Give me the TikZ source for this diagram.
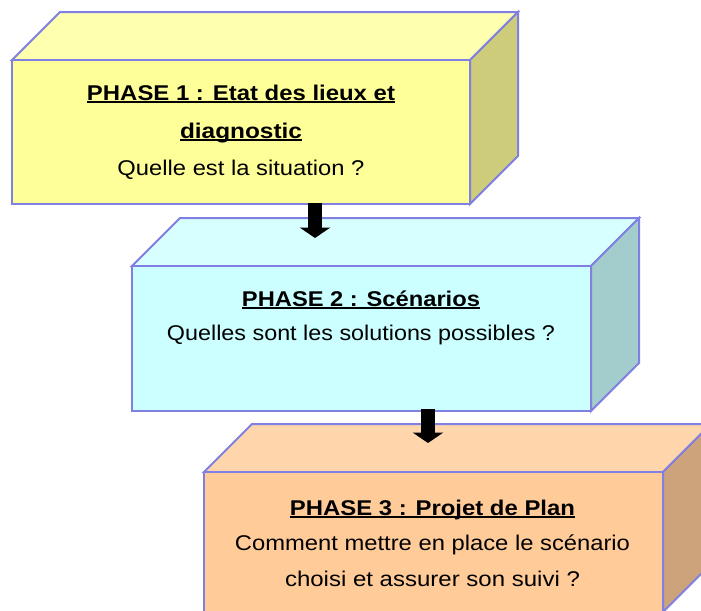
\documentclass[tikz,border=0pt]{standalone}
\usepackage{fontspec}
\setmainfont{Liberation Sans}
\usetikzlibrary{arrows.meta}
\definecolor{edge}{RGB}{128,128,226}
\definecolor{yfront}{RGB}{255,255,153}
\definecolor{ytop}{RGB}{255,255,176}
\definecolor{yside}{RGB}{204,204,122}
\definecolor{cfront}{RGB}{204,255,255}
\definecolor{ctop}{RGB}{216,255,255}
\definecolor{cside}{RGB}{163,204,204}
\definecolor{ofront}{RGB}{255,204,153}
\definecolor{otop}{RGB}{255,214,172}
\definecolor{oside}{RGB}{204,163,122}
\newcommand{\myul}[1]{{\setbox0\hbox{#1}\rlap{\rule[-2.5pt]{\wd0}{1.5pt}}\box0}}
\newcommand{\fitline}[2]{\resizebox{#1pt}{\height}{#2}}
\tikzset{
  face/.style={draw=edge, line width=1.5pt, line join=miter},
  txt/.style={anchor=base, inner sep=0pt, font=\fontsize{16pt}{18pt}\selectfont, text=black},
  bigarrow/.style={line width=11pt, line cap=butt, -{Triangle[width=22.5pt,length=7.8pt]}, black}
}
\begin{document}
\begin{tikzpicture}[x=0.75pt,y=-0.75pt]
\useasboundingbox (0,0) rectangle (701,611);
\clip (0,0) rectangle (701,611);
\fill[white] (0,0) rectangle (701,611);
% Box 1
\draw[face, fill=ytop] (12,60) -- (60,12) -- (518,12) -- (470,60) -- cycle;
\draw[face, fill=yside] (470,60) -- (518,12) -- (518,156) -- (470,204) -- cycle;
\draw[face, fill=yfront] (12,60) rectangle (470,204);
% Box 2
\draw[face, fill=ctop] (132,266) -- (180,218) -- (639,218) -- (591,266) -- cycle;
\draw[face, fill=cside] (591,266) -- (639,218) -- (639,363) -- (591,411) -- cycle;
\draw[face, fill=cfront] (132,266) rectangle (591,411);
% Box 3
\draw[face, fill=otop] (204,472) -- (252,424) -- (711,424) -- (663,472) -- cycle;
\draw[face, fill=oside] (663,472) -- (711,424) -- (711,564) -- (663,612) -- cycle;
\draw[face, fill=ofront] (204,472) rectangle (663,612);
% Texts
\node[txt] (t1a) at (241,100) {\fitline{231}{\myul{\textbf{PHASE 1 : Etat des lieux et}}}};
\node[txt] (t1b) at (241,138) {\fitline{91.5}{\myul{\textbf{diagnostic}}}};
\node[txt] (t1c) at (241,175) {\fitline{185.25}{Quelle est la situation ?}};
\node[txt] (t2a) at (361,306) {\fitline{178.5}{\myul{\textbf{PHASE 2 : Scénarios}}}};
\node[txt] (t2b) at (361,340) {\fitline{291}{Quelles sont les solutions possibles ?}};
\node[txt] (t3a) at (432.5,515) {\fitline{213.75}{\myul{\textbf{PHASE 3 : Projet de Plan}}}};
\node[txt] (t3b) at (432.5,550) {\fitline{296.25}{Comment mettre en place le scénario}};
\node[txt] (t3c) at (432.5,586.5) {\fitline{221.25}{choisi et assurer son suivi ?}};
% Arrows
\coordinate (a1s) at (315,203);
\coordinate (a1e) at (315,238);
\coordinate (a2s) at (428,409);
\coordinate (a2e) at (428,443);
\draw[bigarrow] (a1s) -- (a1e);
\draw[bigarrow] (a2s) -- (a2e);
\end{tikzpicture}
\end{document}
